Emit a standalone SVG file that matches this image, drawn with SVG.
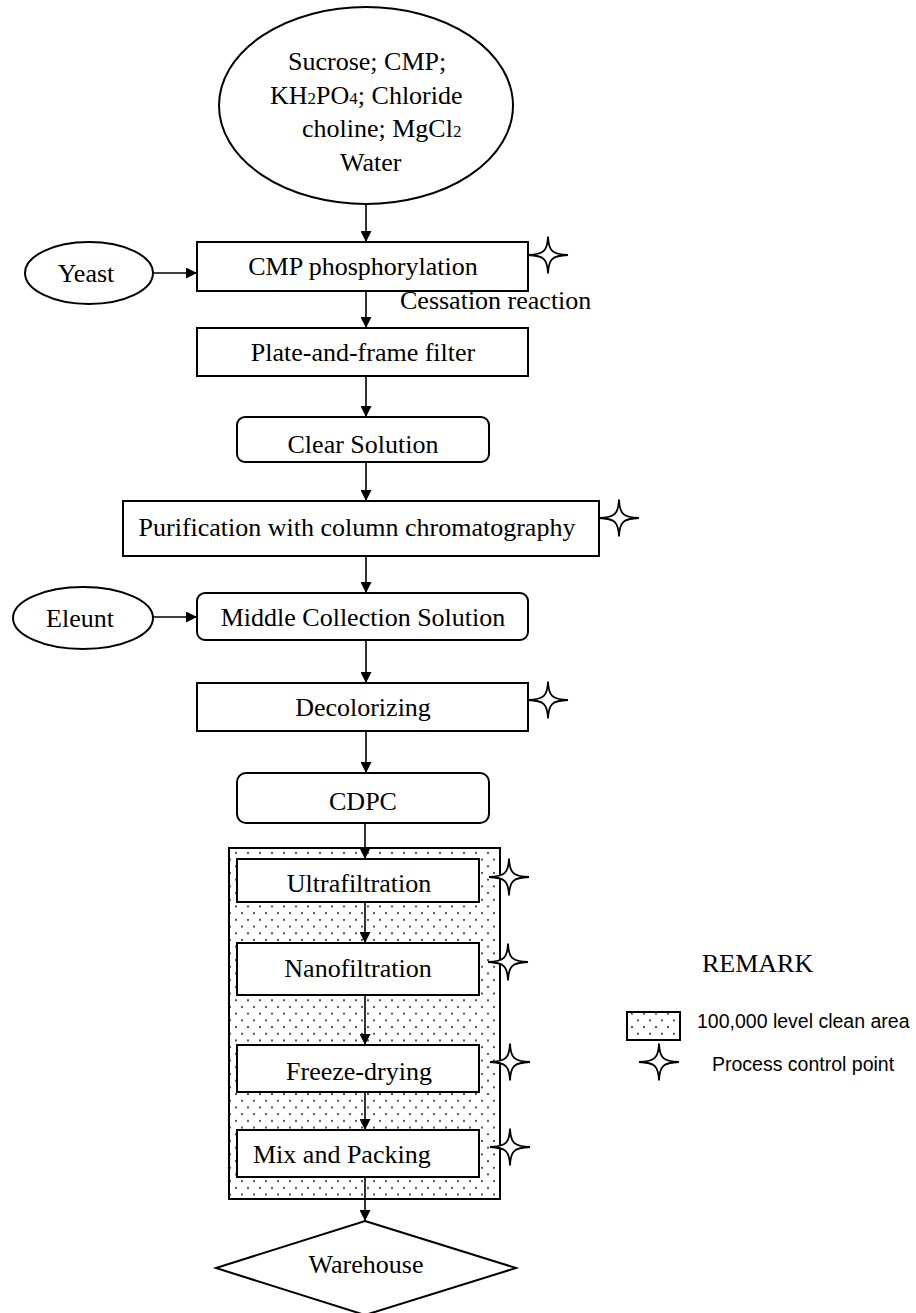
<svg xmlns="http://www.w3.org/2000/svg" width="916" height="1313" viewBox="0 0 916 1313">
<defs>
<style>
.box{fill:#fff;stroke:#000;stroke-width:2}
.t{font-family:"Liberation Serif","Times New Roman",serif;font-size:26px;fill:#000}
.s{font-family:"Liberation Sans",Arial,sans-serif;font-size:19.5px;fill:#000}
.c{text-anchor:middle}
.ln{stroke:#000;stroke-width:1.6;fill:none}
.star{fill:#fff;stroke:#000;stroke-width:1.8}
</style>
<marker id="ah" viewBox="0 0 10 10" refX="10" refY="5" markerWidth="11" markerHeight="11" markerUnits="userSpaceOnUse" orient="auto">
<path d="M0,0 L10,5 L0,10 z" fill="#000"/>
</marker>
<pattern id="dots" width="12" height="13.4" patternUnits="userSpaceOnUse">
<circle cx="2" cy="2" r="1" fill="#222"/>
<circle cx="8" cy="8.7" r="1" fill="#222"/>
</pattern>
<path id="st" d="M-20,0 C-4,-0.6 -0.6,-4 0,-18.5 C0.6,-4 4,-0.6 20,0 C4,0.6 0.6,4 0,18.5 C-0.6,4 -4,0.6 -20,0 Z"/>
</defs>

<g id="clean-area">
<rect x="229" y="848" width="271" height="351" fill="url(#dots)" stroke="#000" stroke-width="2"/>
</g>

<g id="connectors">
<line class="ln" x1="366" y1="204" x2="366" y2="242" marker-end="url(#ah)"/>
<line class="ln" x1="153" y1="273" x2="197" y2="273" marker-end="url(#ah)"/>
<line class="ln" x1="366" y1="291" x2="366" y2="328" marker-end="url(#ah)"/>
<line class="ln" x1="366" y1="376" x2="366" y2="417" marker-end="url(#ah)"/>
<line class="ln" x1="366" y1="462" x2="366" y2="501" marker-end="url(#ah)"/>
<line class="ln" x1="366" y1="556" x2="366" y2="593" marker-end="url(#ah)"/>
<line class="ln" x1="153" y1="617" x2="197" y2="617" marker-end="url(#ah)"/>
<line class="ln" x1="366" y1="640" x2="366" y2="683" marker-end="url(#ah)"/>
<line class="ln" x1="366" y1="731" x2="366" y2="773" marker-end="url(#ah)"/>
<line class="ln" x1="365" y1="823" x2="365" y2="859" marker-end="url(#ah)"/>
<line class="ln" x1="365" y1="902" x2="365" y2="943" marker-end="url(#ah)"/>
<line class="ln" x1="365" y1="995" x2="365" y2="1045" marker-end="url(#ah)"/>
<line class="ln" x1="365" y1="1092" x2="365" y2="1130" marker-end="url(#ah)"/>
<line class="ln" x1="365" y1="1177" x2="365" y2="1221" marker-end="url(#ah)"/>
</g>

<g id="raw-materials">
<ellipse class="box" cx="366" cy="105.5" rx="147" ry="98.5"/>
<text class="t" x="288" y="70">Sucrose; CMP;</text>
<text class="t" x="270" y="104">KH<tspan font-size="17">2</tspan>PO<tspan font-size="17">4</tspan>; Chloride</text>
<text class="t" x="302" y="137">choline; MgCl<tspan font-size="17">2</tspan></text>
<text class="t" x="340" y="171">Water</text>
</g>

<g id="yeast">
<ellipse class="box" cx="89" cy="273" rx="64" ry="31"/>
<text class="t c" x="86" y="282">Yeast</text>
</g>

<g id="cmp-phosphorylation">
<rect class="box" x="197" y="242" width="331" height="49"/>
<text class="t c" x="363" y="275">CMP phosphorylation</text>
<use href="#st" class="star" x="548" y="255"/>
</g>

<g id="cessation-label">
<text class="t" x="400" y="309">Cessation reaction</text>
</g>

<g id="plate-filter">
<rect class="box" x="197" y="328" width="331" height="48"/>
<text class="t c" x="363" y="361">Plate-and-frame filter</text>
</g>

<g id="clear-solution">
<rect class="box" x="237" y="417" width="252" height="45" rx="8"/>
<text class="t c" x="363" y="453">Clear Solution</text>
</g>

<g id="purification">
<rect class="box" x="123" y="501" width="476" height="55"/>
<text class="t c" x="357" y="536">Purification with column chromatography</text>
<use href="#st" class="star" x="619" y="518"/>
</g>

<g id="eleunt">
<ellipse class="box" cx="83" cy="618" rx="70" ry="31"/>
<text class="t c" x="80" y="627">Eleunt</text>
</g>

<g id="middle-collection">
<rect class="box" x="197" y="593" width="331" height="47" rx="8"/>
<text class="t c" x="363" y="626">Middle Collection Solution</text>
</g>

<g id="decolorizing">
<rect class="box" x="197" y="683" width="331" height="48"/>
<text class="t c" x="363" y="716">Decolorizing</text>
<use href="#st" class="star" x="548" y="700"/>
</g>

<g id="cdpc">
<rect class="box" x="237" y="773" width="252" height="50" rx="9"/>
<text class="t c" x="363" y="810">CDPC</text>
</g>

<g id="ultrafiltration">
<rect class="box" x="237" y="859" width="242" height="43"/>
<text class="t c" x="359" y="892">Ultrafiltration</text>
<use href="#st" class="star" x="509" y="877"/>
</g>

<g id="nanofiltration">
<rect class="box" x="237" y="943" width="242" height="52"/>
<text class="t c" x="358" y="977">Nanofiltration</text>
<use href="#st" class="star" x="508" y="962"/>
</g>

<g id="freeze-drying">
<rect class="box" x="237" y="1045" width="242" height="47"/>
<text class="t c" x="359" y="1080">Freeze-drying</text>
<use href="#st" class="star" x="510" y="1062"/>
</g>

<g id="mix-packing">
<rect class="box" x="237" y="1130" width="242" height="47"/>
<text class="t" x="253" y="1163">Mix and Packing</text>
<use href="#st" class="star" x="510" y="1147"/>
</g>

<g id="warehouse">
<polygon class="box" points="365,1221 516,1268 365,1315 216,1268"/>
<text class="t c" x="366" y="1273">Warehouse</text>
</g>

<g id="legend">
<text class="t" x="702" y="972">REMARK</text>
<rect x="627" y="1012" width="53" height="28" fill="url(#dots)" stroke="#000" stroke-width="2"/>
<text class="s" x="697" y="1028">100,000 level clean area</text>
<use href="#st" class="star" x="659" y="1062"/>
<text class="s" x="712" y="1071">Process control point</text>
</g>
</svg>
